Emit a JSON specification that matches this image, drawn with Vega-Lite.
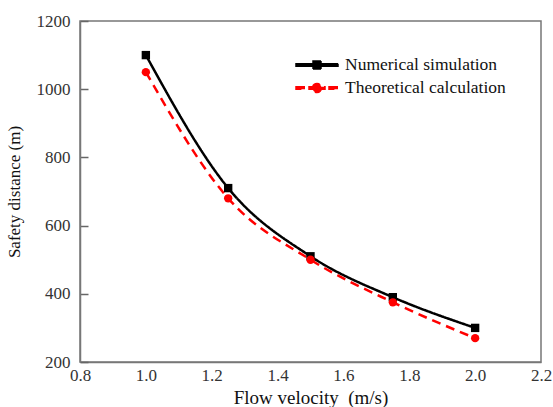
{
  "$schema": "https://vega.github.io/schema/vega-lite/v6.json",
  "width": 461,
  "height": 341,
  "autosize": {"type": "none"},
  "padding": {"left": 80, "top": 21, "right": 12, "bottom": 45},
  "background": "white",
  "config": {
    "font": "Liberation Serif",
    "view": {"stroke": "#777777", "strokeWidth": 1.5},
    "axis": {"grid": false, "labelFont": "Liberation Serif", "titleFont": "Liberation Serif", "labelColor": "#333333", "titleColor": "#111111", "domainColor": "#777777", "tickColor": "#666666", "domainWidth": 1.5, "tickWidth": 1.5, "labelFontSize": 17, "titleFontSize": 18, "titleFontWeight": "normal"}
  },
  "data": {"values": [
    {"series": "Numerical simulation", "velocity": 1.0, "distance": 1100},
    {"series": "Numerical simulation", "velocity": 1.25, "distance": 710},
    {"series": "Numerical simulation", "velocity": 1.5, "distance": 510},
    {"series": "Numerical simulation", "velocity": 1.75, "distance": 390},
    {"series": "Numerical simulation", "velocity": 2.0, "distance": 300},
    {"series": "Theoretical calculation", "velocity": 1.0, "distance": 1050},
    {"series": "Theoretical calculation", "velocity": 1.25, "distance": 680},
    {"series": "Theoretical calculation", "velocity": 1.5, "distance": 500},
    {"series": "Theoretical calculation", "velocity": 1.75, "distance": 375},
    {"series": "Theoretical calculation", "velocity": 2.0, "distance": 270}
  ]},
  "layer": [
    {
      "mark": {"type": "line", "interpolate": "monotone", "strokeWidth": 2.5},
      "encoding": {
        "x": {"field": "velocity", "type": "quantitative", "scale": {"domain": [0.8, 2.2], "nice": false, "zero": false},
          "axis": {"title": "Flow velocity\u00a0 (m/s)", "titleFontSize": 19, "values": [0.8, 1.0, 1.2, 1.4, 1.6, 1.8, 2.0, 2.2], "format": ".1f", "ticks": false, "labelPadding": 5, "titlePadding": 5, "labelFlush": false, "labelOverlap": false, "labelBound": false}},
        "y": {"field": "distance", "type": "quantitative", "scale": {"domain": [200, 1200], "nice": false, "zero": false},
          "axis": {"title": "Safety distance (m)", "titleFontSize": 17, "orient": "left", "values": [200, 300, 400, 500, 600, 700, 800, 900, 1000, 1100, 1200], "format": "d",
            "labelExpr": "datum.value % 200 === 0 ? datum.label : ''",
            "tickSize": {"condition": {"test": "datum.value % 200 === 0", "value": -8}, "value": -4},
            "labelPadding": 18, "titlePadding": 13, "labelFlush": false, "labelOverlap": false, "labelBound": false}},
        "color": {"field": "series", "type": "nominal", "scale": {"domain": ["Numerical simulation", "Theoretical calculation"], "range": ["black", "red"]},
          "legend": {"title": null, "orient": "none", "legendX": 226, "legendY": 33, "padding": 0, "symbolSize": 400, "labelOffset": 17, "rowPadding": 3, "labelFont": "Liberation Serif", "labelFontSize": 17.5, "labelColor": "#111111", "labelLimit": 300,
            "encode": {"symbols": {"update": {
              "shape": {"signal": "datum.value === 'Numerical simulation' ? 'M-2.1,-0.12H2.1V0.12H-2.1Z M-0.4,-0.4H0.4V0.4H-0.4Z' : 'M-2.1,-0.12H-1.2V0.12H-2.1Z M-0.8,-0.12H0.8V0.12H-0.8Z M1.2,-0.12H2.1V0.12H1.2Z M0.45,0A0.45,0.45 0 1,1 -0.45,0A0.45,0.45 0 1,1 0.45,0Z'"},
              "fill": {"signal": "datum.value === 'Numerical simulation' ? 'black' : 'red'"},
              "fillOpacity": {"value": 1},
              "opacity": {"value": 1},
              "stroke": {"value": "transparent"},
              "strokeDash": {"value": [1, 0]},
              "size": {"value": 400}
            }}}}},
        "strokeDash": {"field": "series", "type": "nominal", "scale": {"domain": ["Numerical simulation", "Theoretical calculation"], "range": [[1, 0], [9, 6]]}, "legend": null}
      }
    },
    {
      "transform": [{"filter": "datum.series === 'Numerical simulation'"}],
      "mark": {"type": "point", "filled": true, "size": 70, "opacity": 1, "shape": "square", "color": "black"},
      "encoding": {
        "x": {"field": "velocity", "type": "quantitative"},
        "y": {"field": "distance", "type": "quantitative"}
      }
    },
    {
      "transform": [{"filter": "datum.series === 'Theoretical calculation'"}],
      "mark": {"type": "point", "filled": true, "size": 70, "opacity": 1, "shape": "circle", "color": "red"},
      "encoding": {
        "x": {"field": "velocity", "type": "quantitative"},
        "y": {"field": "distance", "type": "quantitative"}
      }
    }
  ]
}
